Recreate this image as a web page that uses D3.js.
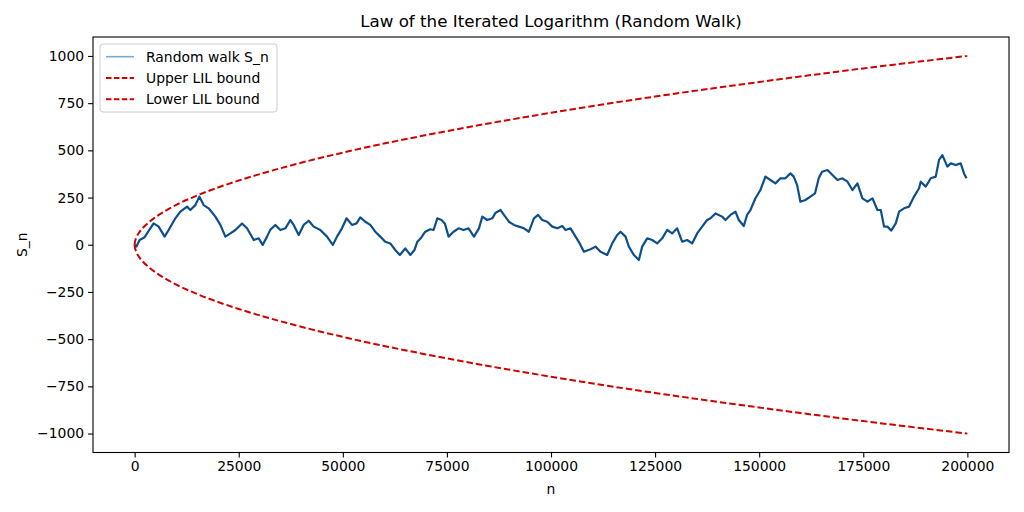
<!DOCTYPE html>
<html lang="en">
<head>
<meta charset="UTF-8">
<title>Law of the Iterated Logarithm</title>
<script src="https://d3js.org/d3.v7.min.js"></script>
<style>
    body { margin: 0; background: white; }
    text { font-family: "DejaVu Sans", sans-serif; }
</style>
</head>
<body>
<script>
    // Random walk S_n
    let walkN = [0, 400, 1200, 2400, 3800, 4560, 5770, 7200, 8170, 9780, 10980, 12590, 13380, 14580, 15540,
        16580, 17780, 19390, 20590, 21790, 23000, 24200, 25800, 27000, 28600, 29800, 30750, 31800, 32600,
        33800, 35000, 36200, 37400, 38200, 39400, 40600, 41800, 43000, 44600, 46200, 47600, 48600, 49800,
        50900, 52200, 53300, 54200, 55400, 56600, 57800, 59000, 60200, 61400, 62600, 63700, 65000, 66200,
        67200, 67900, 68700, 69800, 71000, 71800, 72700, 73700, 74500, 75400, 76600, 77800, 79000, 80200,
        81500, 82700, 83500, 84700, 85900, 86700, 87900, 88700, 89900, 91100, 92300, 93500, 94700, 95900,
        96900, 97900, 99100, 100300, 101500, 102700, 103500, 104700, 105900, 106900, 107900, 109500, 110700,
        111900, 113500, 114700, 115900, 116700, 117900, 118700, 119900, 121100, 121900, 123100, 124300,
        125500, 126700, 127900, 129100, 130300, 131500, 132700, 133900, 135100, 136300, 137500, 138300,
        139500, 141100, 141900, 143100, 144300, 145100, 146300, 147100, 147900, 149100, 150300, 151500,
        152700, 153900, 155100, 156300, 157500, 158300, 159100, 159900, 161100, 162300, 163400, 164300,
        165100, 166400, 167600, 168800, 170000, 171200, 172400, 173600, 174800, 176000, 177200, 178400,
        179200, 180000, 180800, 181700, 182800, 183600, 184800, 186000, 187200, 188400, 188800, 190000,
        191200, 192400, 193200, 194000, 195200, 196000, 197200, 198400, 199200, 199800];
    let walkS = [0, -10, 25, 40, 88, 113, 96, 43, 78, 140, 175, 202, 184, 210, 255,
        210, 193, 149, 105, 43, 60, 78, 113, 87, 25, 34, -1, 43, 80,
        105, 78, 87, 131, 105, 52, 105, 127, 96, 78, 43, -1, 43, 87,
        140, 105, 113, 145, 122, 105, 69, 43, 16, 7, -28, -54, -19, -54,
        -28, 16, 34, 69, 82, 78, 140, 131, 113, 43, 69, 87, 78, 87,
        43, 87, 149, 131, 140, 170, 184, 158, 122, 105, 96, 87, 69, 140,
        158, 131, 122, 96, 87, 99, 78, 87, 43, 7, -37, -24, -10,
        -37, -54, 7, 52, 69, 43, -10, -54, -81, -10, 34, 25,
        7, 34, 78, 60, 87, 16, 25, 7, 60, 96, 131, 140,
        166, 149, 131, 158, 175, 131, 99, 158, 184, 246, 290, 361,
        343, 325, 352, 352, 378, 361, 317, 228, 237, 255, 272, 352,
        387, 396, 369, 343, 352, 334, 290, 325, 246, 228, 246, 184,
        184, 96, 96, 75, 113, 175, 193, 202, 255, 299, 334, 308,
        352, 361, 449, 475, 414, 431, 422, 431, 378, 352];

    // LIL bounds
    let boundN = [3, 20, 100, 300, 1000, 2000, 3500, 5000, 7500, 10000, 15000, 20000, 25000, 37500,
        50000, 75000, 100000, 125000, 150000, 175000, 200000];
    let boundUpper = [0, 6.6, 17.5, 32.3, 62.2, 90, 121, 146, 181, 211, 261, 303, 340, 420,
        488, 602, 699, 785, 862, 934, 1000.4];
    let boundLower = boundUpper.map(v => -v);

    let xTicks = [0, 25000, 50000, 75000, 100000, 125000, 150000, 175000, 200000];
    let yTicks = [-1000, -750, -500, -250, 0, 250, 500, 750, 1000];

    let width = 1024, height = 512;
    let margin = {left: 93, right: 15, top: 37, bottom: 59.5};

    let svg = d3.select("body").append("svg")
        .attr("width", width)
        .attr("height", height);

    let x = d3.scaleLinear()
        .domain([-10000, 210000])
        .range([margin.left, width - margin.right]);
    let y = d3.scaleLinear()
        .domain([-1100.4, 1100.4])
        .range([height - margin.bottom, margin.top]);

    // clip to the axes box
    svg.append("clipPath").attr("id", "clip")
        .append("rect")
        .attr("x", margin.left).attr("y", margin.top)
        .attr("width", x.range()[1] - x.range()[0])
        .attr("height", y.range()[0] - y.range()[1]);

    let plot = svg.append("g").attr("clip-path", "url(#clip)");

    let walkLine = d3.line()
        .x((d, i) => x(walkN[i]))
        .y(d => y(d));

    plot.append("path")
        .datum(walkS)
        .attr("fill", "none")
        .attr("stroke", "#0d4f8b")
        .attr("stroke-width", 2.2)
        .attr("stroke-linejoin", "round")
        .attr("d", walkLine);

    let boundLine = d3.line()
        .x((d, i) => x(boundN[i]))
        .y(d => y(d))
        .curve(d3.curveMonotoneX);

    [boundUpper, boundLower].forEach(b => {
        plot.append("path")
            .datum(b)
            .attr("fill", "none")
            .attr("stroke", "#d00000")
            .attr("stroke-width", 2)
            .attr("stroke-dasharray", "6.5,3")
            .attr("d", boundLine);
    });

    // axes
    let xAxis = svg.append("g")
        .attr("transform", `translate(0,${y.range()[0]})`)
        .call(d3.axisBottom(x).tickValues(xTicks).tickFormat(d3.format("d"))
            .tickSize(4.9).tickPadding(4));
    let yAxis = svg.append("g")
        .attr("transform", `translate(${x.range()[0]},0)`)
        .call(d3.axisLeft(y).tickValues(yTicks).tickFormat(d3.format("d"))
            .tickSize(4.9).tickPadding(4));

    [xAxis, yAxis].forEach(a => {
        a.select(".domain").remove();
        a.selectAll("line").attr("stroke", "#000").attr("stroke-width", 1.1);
        a.selectAll("text").attr("fill", "#000").style("font-size", "13.9px")
            .style("font-family", "'DejaVu Sans', sans-serif");
    });

    // frame
    svg.append("rect")
        .attr("x", x.range()[0]).attr("y", y.range()[1])
        .attr("width", x.range()[1] - x.range()[0])
        .attr("height", y.range()[0] - y.range()[1])
        .attr("fill", "none")
        .attr("stroke", "#000")
        .attr("stroke-width", 1.1);

    // title and labels
    svg.append("text")
        .attr("x", (x.range()[0] + x.range()[1]) / 2)
        .attr("y", 27)
        .attr("text-anchor", "middle")
        .style("font-size", "16.7px")
        .text("Law of the Iterated Logarithm (Random Walk)");

    svg.append("text")
        .attr("x", (x.range()[0] + x.range()[1]) / 2)
        .attr("y", 494)
        .attr("text-anchor", "middle")
        .style("font-size", "13.9px")
        .text("n");

    svg.append("text")
        .attr("transform", `translate(27,${(y.range()[0] + y.range()[1]) / 2}) rotate(-90)`)
        .attr("text-anchor", "middle")
        .style("font-size", "13.9px")
        .text("S_n");

    // legend
    let legendItems = [
        {label: "Random walk S_n", color: "#1f77b4", opacity: 0.6, dash: null},
        {label: "Upper LIL bound", color: "#d00000", opacity: 1, dash: "5.5,2.4"},
        {label: "Lower LIL bound", color: "#d00000", opacity: 1, dash: "5.5,2.4"}
    ];

    let legend = svg.append("g").attr("transform", "translate(100,44)");
    legend.append("rect")
        .attr("width", 177).attr("height", 68)
        .attr("rx", 3)
        .attr("fill", "white").attr("fill-opacity", 0.8)
        .attr("stroke", "#cccccc").attr("stroke-width", 1);

    let row = legend.selectAll("g.item")
        .data(legendItems)
        .enter().append("g")
        .attr("class", "item")
        .attr("transform", (d, i) => `translate(0,${12.7 + i * 21.3})`);

    row.append("line")
        .attr("x1", 6).attr("x2", 34)
        .attr("stroke", d => d.color)
        .attr("stroke-opacity", d => d.opacity)
        .attr("stroke-width", d => d.dash ? 2 : 1.6)
        .attr("stroke-dasharray", d => d.dash);

    row.append("text")
        .attr("x", 46).attr("dy", "0.35em")
        .style("font-size", "13.9px")
        .text(d => d.label);
</script>
</body>
</html>
